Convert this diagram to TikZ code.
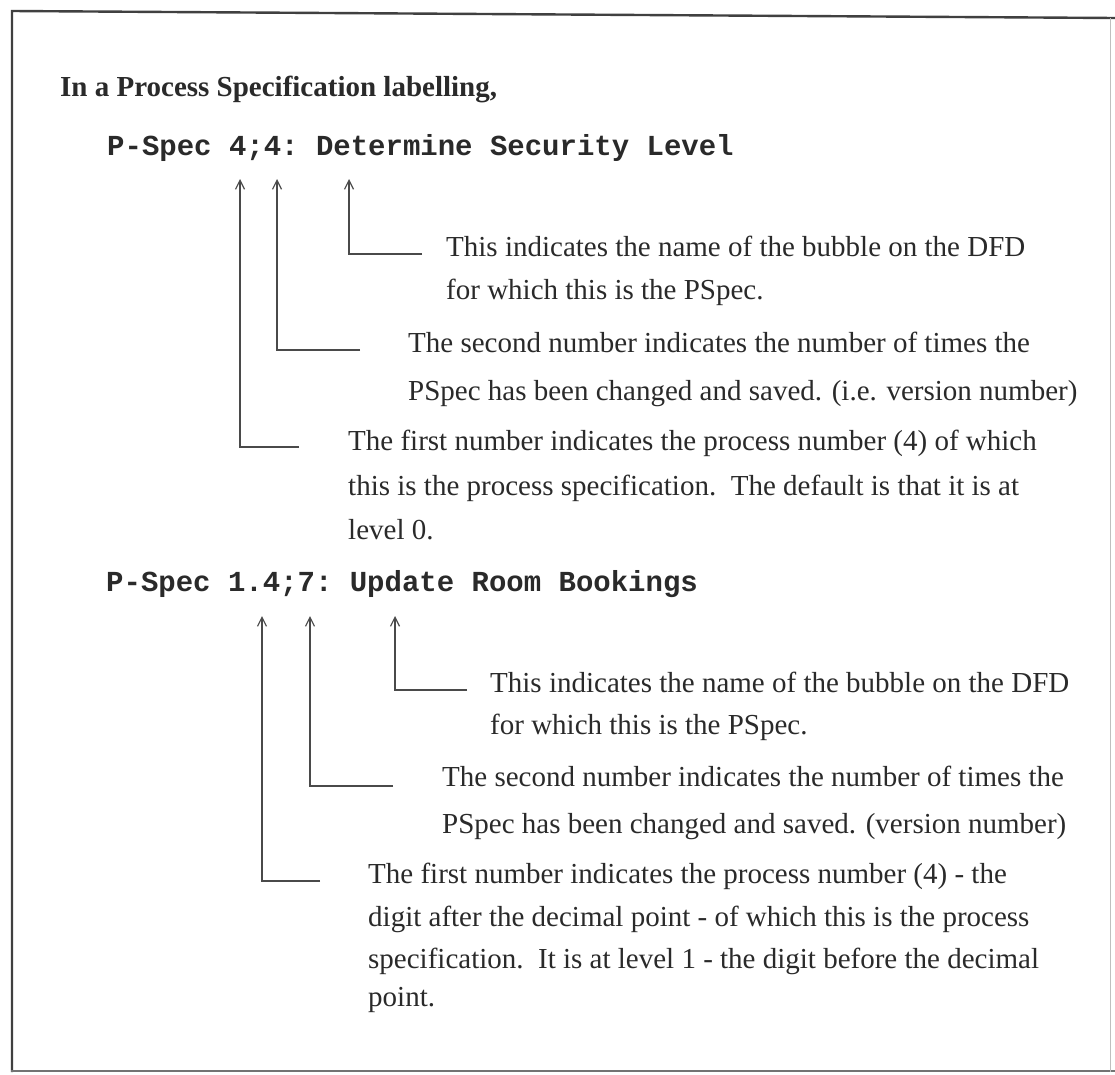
\documentclass[tikz,border=0pt]{standalone}
\usepackage{fontspec}
\setmainfont{Liberation Serif}
\setmonofont{Liberation Mono}
\usetikzlibrary{arrows.meta}
\definecolor{inkc}{HTML}{2A2A2A}
\definecolor{linec}{HTML}{4A4A4A}
\tikzset{
  txt/.style={anchor=base west, inner sep=0pt, text=inkc, font=\fontsize{29}{40}\selectfont},
  hdr/.style={txt, font=\fontsize{29}{40}\selectfont\bfseries},
  spec/.style={txt, font=\fontsize{29}{40}\selectfont\ttfamily\bfseries},
  pointer/.style={draw=linec, line width=1.4pt, -{Straight Barb[length=9pt,width=9pt,line width=1.2pt]}},
  framel/.style={draw=#1, line cap=rect},
}
\begin{document}
\begin{tikzpicture}[x=1pt,y=-1pt]
\useasboundingbox (0,0) rectangle (1115,1074);
\fill[white] (0,0) rectangle (1115,1074);
% frame
\draw[framel=black!75, line width=2.4pt] (12,1071) -- (12,11) -- (1115,18);
\draw[framel=black!55, line width=1.6pt] (12,1071) -- (1115,1071);
\draw[framel=black!25, line width=1pt] (1110,18) -- (1110,1071);

\node[hdr] (title) at (60,96) {In a Process Specification labelling,};

% ---- first example
\node[spec] (spec1) at (107,155) {P-Spec 4;4: Determine Security Level};
\coordinate (a1tip) at (240,179);
\coordinate (a2tip) at (277,179);
\coordinate (a3tip) at (349,179);
\coordinate (a1end) at (299,447);
\coordinate (a2end) at (360,350);
\coordinate (a3end) at (422,254);
\draw[pointer] (a3end) -| (a3tip);
\draw[pointer] (a2end) -| (a2tip);
\draw[pointer] (a1end) -| (a1tip);

\node[txt] (t1a) at (446,256) {This indicates the name of the bubble on the DFD};
\node[txt] (t1b) at (446,299) {for which this is the PSpec.};
\node[txt] (t2a) at (408,352) {The second number indicates the number of times the};
\node[txt] (t2b) at (408,400) {PSpec has been changed and saved. (i.e. version number)};
\node[txt] (t3a) at (348,450) {The first number indicates the process number (4) of which};
\node[txt] (t3b) at (348,495) {this is the process specification.\ \ The default is that it is at};
\node[txt] (t3c) at (348,539) {level 0.};

% ---- second example
\node[spec] (spec2) at (106,591) {P-Spec 1.4;7: Update Room Bookings};
\coordinate (b1tip) at (262,616);
\coordinate (b2tip) at (310,616);
\coordinate (b3tip) at (395,616);
\coordinate (b1end) at (320,881);
\coordinate (b2end) at (393,786);
\coordinate (b3end) at (467,690);
\draw[pointer] (b3end) -| (b3tip);
\draw[pointer] (b2end) -| (b2tip);
\draw[pointer] (b1end) -| (b1tip);

\node[txt] (u1a) at (490,692) {This indicates the name of the bubble on the DFD};
\node[txt] (u1b) at (490,734) {for which this is the PSpec.};
\node[txt] (u2a) at (442,786) {The second number indicates the number of times the};
\node[txt] (u2b) at (442,833) {PSpec has been changed and saved. (version number)};
\node[txt] (u3a) at (368,883) {The first number indicates the process number (4) - the};
\node[txt] (u3b) at (368,926) {digit after the decimal point - of which this is the process};
\node[txt] (u3c) at (368,968) {specification.\ \ It is at level 1 - the digit before the decimal};
\node[txt] (u3d) at (368,1006) {point.};
\end{tikzpicture}
\end{document}
